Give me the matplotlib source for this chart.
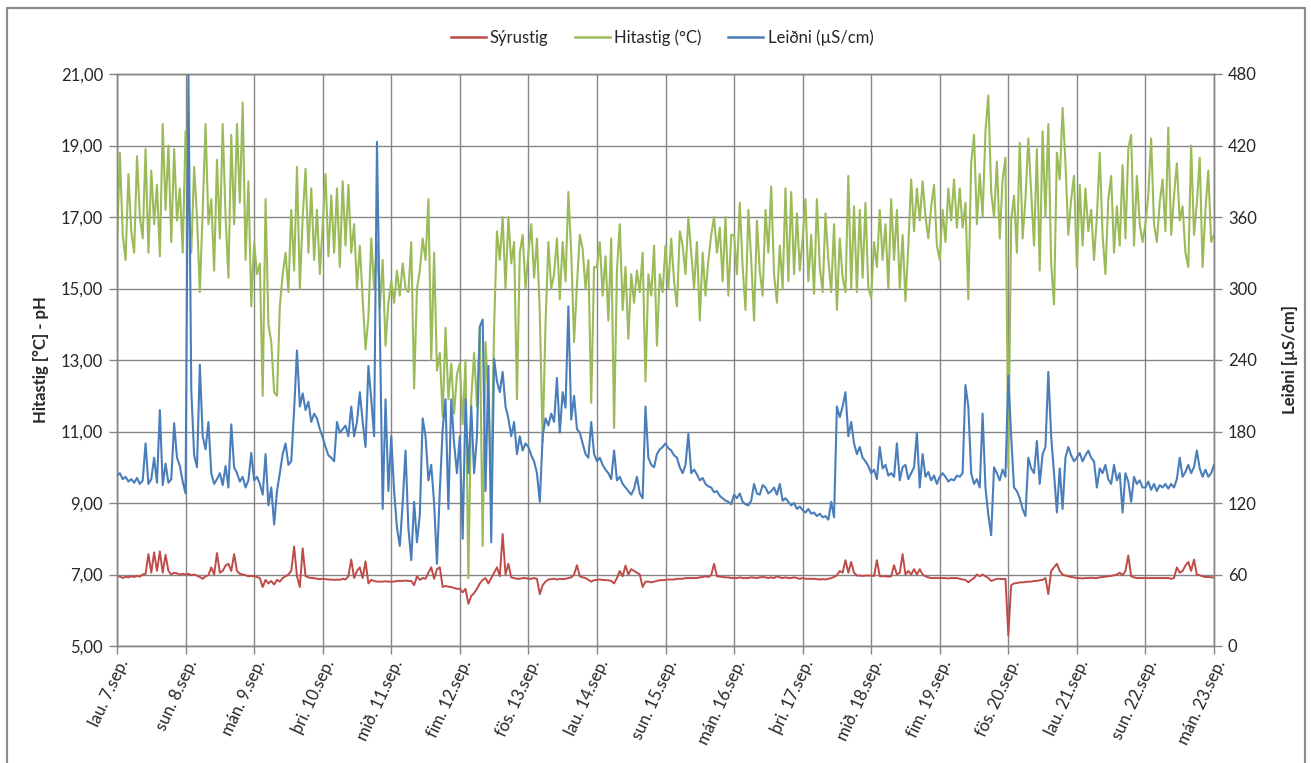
import matplotlib
matplotlib.use("Agg")
import matplotlib.pyplot as plt
import matplotlib.dates as mdates
from matplotlib.patches import Rectangle
from matplotlib.lines import Line2D
import pandas as pd

plt.rcParams['font.family'] = ['Lato', 'DejaVu Sans']

# ---- data (hourly readings, 7 Sep 00:00 -> 23 Sep 00:00) ----
start = "2013-09-07 00:00"

syrustig = [
 6.93, 6.95, 6.9, 6.94, 6.92, 6.95, 6.93, 6.96, 6.94, 7.0, 7.02, 7.57, 7.05, 7.62, 7.1, 7.65, 7.05, 7.55, 7.1, 7.0, 7.05, 7.03, 7.0, 7.02,
 7.0, 7.02, 6.98, 7.0, 6.97, 6.93, 6.88, 6.95, 6.98, 7.2, 7.0, 7.6, 7.05, 7.1, 7.25, 7.3, 7.1, 7.57, 7.1, 7.02, 7.0, 6.98, 6.95, 6.96,
 6.95, 6.93, 6.9, 6.65, 6.85, 6.75, 6.82, 6.72, 6.85, 6.8, 6.9, 6.95, 7.0, 7.1, 7.78, 6.95, 6.65, 7.73, 6.95, 6.92, 6.9, 6.9, 6.88, 6.87,
 6.88, 6.87, 6.86, 6.86, 6.85, 6.86, 6.85, 6.88, 6.86, 6.95, 7.42, 6.9, 7.1, 7.2, 6.9, 7.37, 6.75, 6.85, 6.82, 6.8, 6.8, 6.8, 6.81, 6.8,
 6.8, 6.8, 6.82, 6.82, 6.82, 6.83, 6.82, 6.82, 6.7, 6.95, 6.85, 6.9, 6.88, 7.05, 7.2, 6.88, 7.15, 7.2, 6.65, 6.68, 6.66, 6.65, 6.62, 6.6,
 6.6, 6.5, 6.6, 6.18, 6.4, 6.48, 6.6, 6.75, 6.85, 6.9, 6.75, 6.9, 7.05, 7.2, 6.95, 8.13, 7.0, 7.3, 6.92, 6.9, 6.88, 6.88, 6.9, 6.9,
 6.88, 6.88, 6.9, 6.88, 6.45, 6.7, 6.8, 6.86, 6.87, 6.88, 6.86, 6.88, 6.87, 6.88, 6.9, 6.92, 7.0, 7.26, 6.95, 6.92, 6.9, 6.85, 6.8, 6.84,
 6.85, 6.86, 6.85, 6.84, 6.84, 6.82, 6.75, 6.9, 7.1, 6.95, 7.25, 7.0, 7.15, 7.1, 7.05, 7.0, 6.65, 6.8, 6.8, 6.78, 6.8, 6.82, 6.84, 6.84,
 6.85, 6.86, 6.86, 6.86, 6.88, 6.88, 6.88, 6.9, 6.9, 6.9, 6.9, 6.9, 6.92, 6.93, 6.95, 6.93, 6.98, 7.3, 6.95, 6.94, 6.93, 6.92, 6.92, 6.9,
 6.9, 6.9, 6.92, 6.9, 6.9, 6.9, 6.92, 6.91, 6.9, 6.92, 6.93, 6.92, 6.9, 6.92, 6.9, 6.95, 6.92, 6.9, 6.92, 6.9, 6.9, 6.92, 6.9, 6.88,
 6.9, 6.88, 6.88, 6.88, 6.88, 6.87, 6.86, 6.87, 6.86, 6.88, 6.9, 6.93, 6.98, 7.1, 7.05, 7.4, 7.05, 7.35, 7.05, 6.97, 6.97, 6.96, 6.97, 6.97,
 6.97, 6.96, 7.4, 6.95, 6.95, 6.95, 6.94, 6.95, 7.26, 7.0, 7.05, 7.57, 7.0, 7.1, 7.0, 7.15, 7.0, 7.15, 7.0, 6.95, 6.92, 6.9, 6.9, 6.9,
 6.9, 6.9, 6.9, 6.89, 6.9, 6.9, 6.9, 6.88, 6.86, 6.85, 6.78, 6.85, 6.9, 7.0, 6.95, 7.0, 6.95, 6.9, 6.82, 6.85, 6.88, 6.88, 6.87, 6.88,
 5.3, 6.7, 6.75, 6.76, 6.78, 6.78, 6.79, 6.8, 6.8, 6.82, 6.82, 6.84, 6.85, 6.9, 6.45, 7.1, 7.2, 7.3, 7.1, 7.0, 6.97, 6.95, 6.93, 6.92,
 6.9, 6.9, 6.89, 6.9, 6.9, 6.91, 6.9, 6.9, 6.92, 6.93, 6.94, 6.95, 6.96, 6.98, 7.0, 7.05, 6.98, 7.1, 7.53, 6.95, 6.92, 6.9, 6.9, 6.9,
 6.9, 6.9, 6.9, 6.9, 6.9, 6.9, 6.9, 6.9, 6.9, 6.88, 6.9, 7.2, 7.05, 7.1, 7.25, 7.35, 7.1, 7.42, 7.0, 6.98, 6.95, 6.93, 6.93, 6.92, 6.92,
]

hitastig = [
 16.2, 18.8, 16.5, 15.8, 18.2, 16.6, 16.0, 18.7, 17.0, 16.4, 18.9, 16.0, 18.3, 16.8, 17.9, 15.9, 19.6, 17.2, 19.0, 16.3, 18.9, 16.9, 17.8, 16.0,
 19.4, 17.5, 16.0, 18.4, 17.0, 14.9, 17.2, 19.6, 16.8, 17.5, 15.5, 18.6, 16.4, 19.6, 17.0, 15.3, 19.3, 16.8, 19.6, 17.4, 20.2, 15.8, 18.0, 14.5,
 16.3, 15.4, 15.7, 12.0, 17.5, 14.0, 13.5, 12.1, 12.0, 14.5, 15.4, 16.0, 14.9, 17.2, 15.5, 18.4, 15.0, 17.0, 18.35, 16.0, 17.8, 15.8, 17.2, 15.4,
 16.8, 18.2, 15.9, 17.6, 16.0, 17.8, 15.6, 18.0, 16.2, 17.9, 16.0, 16.8, 15.0, 16.2, 14.7, 13.3, 14.2, 16.4, 15.0, 16.3, 14.45, 15.8, 13.4, 14.6,
 15.2, 14.6, 15.5, 14.8, 15.7, 15.0, 14.9, 16.3, 12.2, 15.0, 15.5, 16.4, 15.8, 17.5, 13.0, 16.0, 12.7, 13.2, 11.4, 13.9, 11.9, 12.9, 11.5, 12.6,
 12.9, 11.2, 13.0, 6.9, 11.9, 13.2, 11.7, 13.9, 7.8, 13.5, 11.9, 9.6, 13.9, 16.6, 15.8, 17.0, 15.0, 17.0, 15.7, 16.3, 11.9, 16.0, 16.5, 15.0,
 16.0, 16.8, 15.3, 16.4, 14.3, 10.7, 14.0, 16.3, 15.0, 15.4, 16.4, 14.7, 16.3, 15.2, 17.7, 16.0, 13.5, 15.1, 16.5, 16.1, 15.0, 15.8, 11.8, 15.6,
 15.6, 16.3, 14.8, 15.9, 14.1, 16.4, 11.1, 15.5, 16.8, 14.4, 15.6, 13.6, 15.4, 14.6, 15.5, 14.9, 16.0, 12.4, 15.4, 14.8, 16.2, 13.4, 15.4, 14.9,
 16.2, 15.0, 16.4, 15.2, 14.5, 16.6, 16.2, 15.4, 17.0, 16.0, 15.0, 16.3, 14.1, 16.0, 14.8, 15.8, 16.5, 17.0, 16.0, 16.7, 15.2, 17.0, 14.8, 16.5,
 16.5, 15.4, 17.4, 15.6, 14.4, 17.2, 15.8, 14.1, 16.9, 15.5, 14.8, 17.2, 16.0, 17.85, 15.4, 14.6, 16.2, 15.0, 17.8, 15.2, 17.7, 15.4, 17.1, 15.5,
 16.4, 17.5, 15.2, 16.5, 14.85, 17.5, 15.6, 14.9, 17.1, 15.8, 14.9, 16.8, 14.4, 16.4, 15.3, 14.9, 18.15, 15.0, 17.3, 14.9, 17.2, 15.3, 17.4, 15.0,
 14.75, 16.3, 15.6, 17.2, 15.8, 16.8, 15.0, 17.5, 15.8, 17.2, 15.0, 16.5, 14.65, 16.2, 18.05, 16.6, 17.8, 16.9, 18.0, 17.0, 16.4, 17.3, 17.9, 16.2,
 15.8, 17.2, 16.3, 17.8, 16.9, 18.05, 16.7, 17.8, 16.7, 17.4, 14.7, 18.5, 19.3, 16.8, 18.2, 17.0, 19.4, 20.4, 17.7, 17.0, 18.55, 16.4, 18.05, 18.66,
 10.0, 16.9, 17.6, 16.0, 19.07, 16.4, 17.5, 19.2, 17.7, 16.2, 18.9, 15.5, 19.4, 17.0, 19.6, 15.7, 14.55, 18.8, 18.05, 20.05, 18.5, 16.5, 17.5, 18.15,
 15.6, 17.9, 16.2, 17.8, 16.6, 17.2, 15.8, 17.0, 18.8, 16.5, 15.4, 17.5, 18.15, 16.0, 17.3, 16.2, 18.45, 16.4, 18.9, 19.3, 16.2, 18.15, 16.8, 16.3,
 16.8, 17.6, 19.2, 16.8, 16.3, 17.4, 18.05, 16.6, 19.5, 16.5, 17.6, 18.5, 16.9, 17.3, 16.0, 15.6, 19.0, 16.5, 17.4, 18.66, 15.6, 17.2, 18.3, 16.3, 16.5,
]

leidni = [
 143, 145, 140, 142, 138, 140, 137, 141, 136, 139, 170, 136, 140, 158, 137, 198, 135, 153, 137, 140, 187, 158, 151, 138,
 128, 480, 215, 160, 150, 236, 176, 165, 188, 145, 136, 140, 145, 135, 151, 133, 186, 150, 145, 138, 142, 133, 139, 162,
 139, 142, 136, 127, 161, 118, 133, 102, 130, 145, 161, 170, 152, 155, 198, 248, 201, 212, 198, 205, 188, 195, 191, 182,
 175, 167, 160, 158, 155, 188, 179, 182, 185, 176, 201, 176, 188, 213, 188, 167, 235, 207, 176, 423, 268, 115, 207, 130,
 176, 130, 99, 84, 120, 164, 99, 72, 121, 87, 110, 191, 176, 139, 152, 120, 69, 130, 182, 207, 115, 207, 170, 145,
 176, 90, 207, 145, 201, 145, 176, 268, 274, 130, 235, 87, 241, 222, 213, 230, 201, 191, 176, 188, 161, 176, 164, 170,
 167, 160, 155, 145, 121, 176, 191, 185, 195, 188, 225, 179, 213, 200, 285, 190, 210, 182, 179, 170, 161, 158, 188, 161,
 155, 158, 152, 148, 145, 140, 164, 139, 142, 136, 133, 130, 127, 132, 142, 128, 124, 201, 158, 152, 150, 161, 165, 167,
 170, 166, 164, 160, 158, 150, 145, 152, 178, 145, 148, 144, 139, 141, 136, 134, 133, 129, 130, 126, 124, 122, 121, 119,
 127, 124, 128, 121, 119, 118, 122, 136, 128, 127, 135, 133, 128, 130, 133, 127, 136, 122, 124, 121, 118, 120, 115, 117,
 114, 112, 115, 111, 112, 109, 111, 108, 109, 106, 121, 108, 201, 192, 201, 213, 176, 188, 170, 161, 167, 158, 155, 151,
 145, 148, 140, 167, 149, 152, 143, 145, 142, 170, 139, 150, 152, 140, 145, 150, 179, 133, 161, 142, 146, 139, 143, 136,
 142, 145, 142, 138, 140, 139, 143, 142, 145, 219, 201, 145, 136, 140, 133, 195, 133, 110, 93, 150, 145, 139, 148, 142,
 227, 176, 133, 130, 124, 115, 109, 158, 149, 145, 172, 136, 161, 167, 230, 176, 145, 112, 149, 115, 158, 167, 160, 155,
 158, 162, 155, 160, 164, 158, 155, 133, 149, 145, 152, 140, 136, 152, 139, 145, 112, 145, 138, 121, 142, 136, 139, 133,
 133, 138, 131, 136, 130, 135, 133, 136, 132, 136, 133, 140, 158, 142, 146, 152, 145, 150, 164, 149, 142, 148, 142, 145, 152,
]

day_labels = ["lau. 7.sep.", "sun. 8.sep.", "mán. 9.sep.", "þri. 10.sep.", "mið. 11.sep.",
              "fim. 12.sep.", "fös. 13.sep.", "lau. 14.sep.", "sun. 15.sep.", "mán. 16.sep.",
              "þri. 17.sep.", "mið. 18.sep.", "fim. 19.sep.", "fös. 20.sep.", "lau. 21.sep.",
              "sun. 22.sep.", "mán. 23.sep."]

series_names = ["Sýrustig", "Hitastig (°C)", "Leiðni (µS/cm)"]
left_ticks = [5, 7, 9, 11, 13, 15, 17, 19, 21]
right_ticks = [0, 60, 120, 180, 240, 300, 360, 420, 480]

# ---- figure ----
W, H = 1311, 763
fig = plt.figure(figsize=(W / 100, H / 100), dpi=100)
fig.patch.set_facecolor("white")

ax = fig.add_axes([117 / W, 1 - 646 / H, (1214 - 117) / W, (646 - 74) / H])
ax2 = ax.twinx()

t = pd.date_range(start, periods=len(hitastig), freq="h")
c_red, c_green, c_blue = "#BE4B48", "#9BBB59", "#4A7EBB"
grid_c = "#868686"
txt_c = "#262626"

ax.plot(t, syrustig, color=c_red, lw=1.4, zorder=3)
ax.plot(t, hitastig, color=c_green, lw=1.5, zorder=4)
ax2.plot(t, leidni, color=c_blue, lw=1.5, zorder=3)

day_ticks = pd.date_range(start, periods=len(day_labels), freq="D")
ax.set_xlim(day_ticks[0], day_ticks[-1])
ax.set_xticks(day_ticks)
ax.set_xticklabels(day_labels, rotation=65, ha="right", va="top",
                   rotation_mode="anchor", fontsize=12)

ax.set_ylim(5, 21)
ax.set_yticks(left_ticks)
ax.set_yticklabels([f"{v:.2f}".replace(".", ",") for v in left_ticks], fontsize=12)
ax2.set_ylim(0, 480)
ax2.set_yticks(right_ticks)
ax2.set_yticklabels([str(v) for v in right_ticks], fontsize=12)

ax.grid(True, color=grid_c, lw=1.0, zorder=0)
ax.set_axisbelow(True)
for a in (ax, ax2):
    for s in a.spines.values():
        s.set_color(grid_c)
        s.set_linewidth(1.0)
    a.tick_params(axis="both", direction="out", length=6, color=grid_c, width=1.0,
                  labelcolor=txt_c, pad=4)
ax.tick_params(axis="x", pad=2)

ax.set_ylabel("Hitastig [°C] - pH", fontsize=12, fontweight="bold", color=txt_c)
ax2.set_ylabel("Leiðni [µS/cm]", fontsize=12, fontweight="bold", color=txt_c)
ax.yaxis.set_label_coords(-0.062, 0.5)
ax2.yaxis.set_label_coords(1.062, 0.5)

handles = [Line2D([], [], color=c, lw=1.8) for c in (c_red, c_green, c_blue)]
fig.legend(handles, series_names, loc="center", bbox_to_anchor=(0.505, 1 - 38 / H),
           ncol=3, frameon=False, fontsize=12, handlelength=2.1,
           handletextpad=0.25, columnspacing=1.6, labelcolor=txt_c)

fig.add_artist(Rectangle((7 / W, -0.02), (1305 - 7) / W, 1.02 - 8 / H,
                         transform=fig.transFigure, fill=False,
                         edgecolor="#8c8c8c", lw=1.6))

fig.savefig("out.png", dpi=100, facecolor="white")
